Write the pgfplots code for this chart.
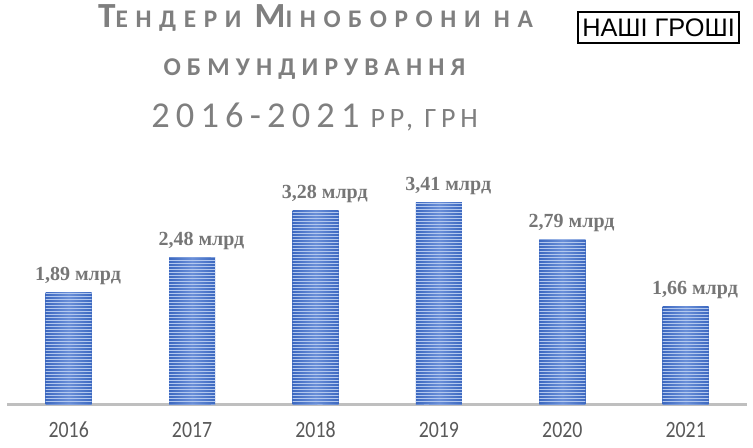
\documentclass[border=0pt]{standalone}
\usepackage{fontspec}
\setmainfont{Liberation Serif}
\newfontfamily\titlefont[LetterSpace=30]{Carlito}
\newfontfamily\subfont[LetterSpace=24]{Carlito}
\newfontfamily\yearfont[LetterSpace=17]{Carlito}
\newfontfamily\tickfont[FakeStretch=0.85]{Carlito}
\newfontfamily\logofont{Liberation Sans}
\usepackage{pgfplots}
\pgfplotsset{compat=1.18}
\usetikzlibrary{patterns.meta}
\definecolor{titlegray}{HTML}{7F7F7F}
\definecolor{labelgray}{HTML}{767676}
\definecolor{tickgray}{HTML}{595959}
\definecolor{axisgray}{HTML}{BFBFBF}
\definecolor{bardark}{HTML}{3C68C0}
\definecolor{barmid}{HTML}{6A8FD8}
\definecolor{barlight}{HTML}{B3C8EE}
\tikzdeclarepattern{
  name=hstripes,
  type=uncolored,
  bounding box={(-2pt,0pt) and (82pt,2.25pt)},
  tile size={(80pt,2.25pt)},
  code={\pgfpathrectangle{\pgfqpoint{-2pt}{0pt}}{\pgfqpoint{84pt}{1pt}}\pgfusepath{fill}}
}
\newcommand\BIG[1]{{\fontsize{26.5}{26.5}\selectfont #1}}
\pgfplotsset{shadebar/.style={ybar, bar width=34.5pt, bar shift=0pt, draw=none, left color=bardark, right color=bardark, middle color=barmid, forget plot}}
\begin{document}
\begin{tikzpicture}[x=0.75pt,y=0.75pt]
\useasboundingbox (0,0) rectangle (753,447);
\begin{axis}[
  at={(5.25pt,31.9pt)}, anchor=south west,
  scale only axis, width=555.3pt, height=177.6pt,
  xmin=-0.5, xmax=5.5, ymin=0, ymax=4,
  hide y axis,
  axis x line*=bottom,
  x axis line style={draw=axisgray, line width=2.2pt, -},
  xtick={0,1,2,3,4,5},
  xticklabels={2016,2017,2018,2019,2020,2021},
  major tick length=0pt,
  xticklabel style={font=\tickfont\fontsize{17.5}{17.5}\selectfont, text=tickgray, anchor=base, yshift=-24.4pt},
  clip=false,
]
\addplot[shadebar] coordinates {(0,1.89)};
\addplot[shadebar] coordinates {(1,2.48)};
\addplot[shadebar] coordinates {(2,3.28)};
\addplot[shadebar] coordinates {(3,3.41)};
\addplot[shadebar] coordinates {(4,2.79)};
\addplot[shadebar] coordinates {(5,1.66)};
\addplot[ybar, bar width=34.5pt, bar shift=0pt, draw=none,
  pattern=hstripes, pattern color=barlight,
  point meta=explicit symbolic,
  nodes near coords={\pgfplotspointmeta~млрд},
  every node near coord/.append style={font=\fontsize{15}{15}\selectfont\bfseries, text=labelgray, anchor=base, inner sep=0pt, yshift=9pt, xshift=7pt},
] coordinates {
  (0,1.89) [1,89]
  (1,2.48) [2,48]
  (2,3.28) [3,28]
  (3,3.41) [3,41]
  (4,2.79) [2,79]
  (5,1.66) [1,66]
};
\end{axis}
% title
\node[anchor=base, inner sep=0pt, text=titlegray, font=\titlefont\bfseries\fontsize{19}{19}\selectfont] at (315.5,419)
  {\BIG{Т}ЕНДЕРИ \BIG{М}ІНОБОРОНИ НА};
\node[anchor=base, inner sep=0pt, text=titlegray, font=\subfont\bfseries\fontsize{19.2}{19.2}\selectfont] at (314.5,371)
  {ОБМУНДИРУВАННЯ};
\node[anchor=base, inner sep=0pt, text=titlegray, font=\yearfont\fontsize{21}{21}\selectfont] at (314.5,319)
  {{\fontsize{27.3}{27.3}\selectfont 2016-2021} РР, ГРН};
% logo
\draw[black, line width=0.8pt] (578,435) rectangle (739,404);
\node[anchor=base, inner sep=0pt, text=black, font=\logofont\fontsize{19}{19}\selectfont] at (658.5,410) {НАШІ ГРОШІ};
\end{tikzpicture}
\end{document}
